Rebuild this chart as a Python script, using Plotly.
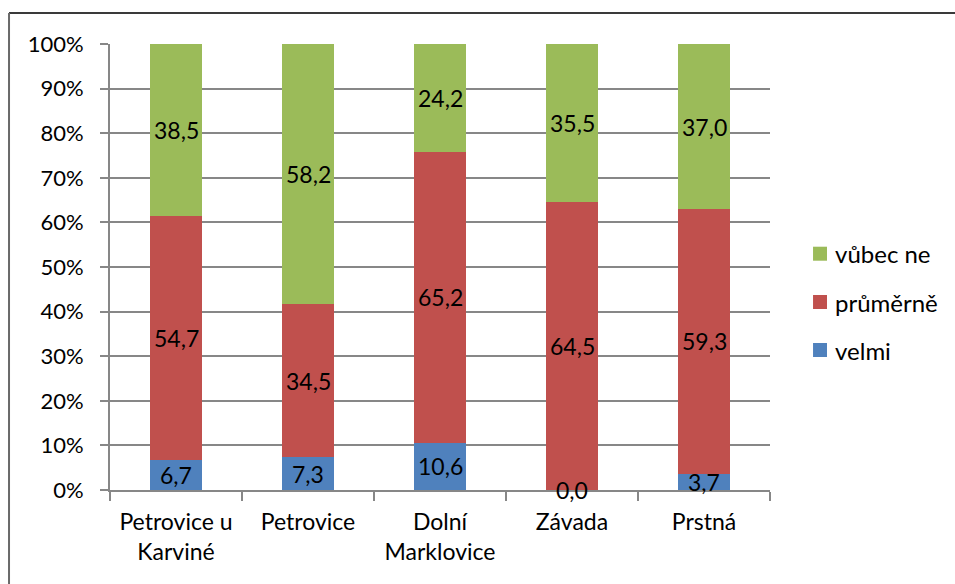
import plotly.graph_objects as go

# Survey answers per municipality (percent of respondents)
obce = ["Petrovice u<br>Karviné", "Petrovice", "Dolní<br>Marklovice", "Závada", "Prstná"]
velmi = [6.7, 7.3, 10.6, 0.0, 3.7]
prumerne = [54.7, 34.5, 65.2, 64.5, 59.3]
vubec_ne = [38.5, 58.2, 24.2, 35.5, 37.0]
y_ticks = [0, 10, 20, 30, 40, 50, 60, 70, 80, 90, 100]

series = [
    ("velmi", velmi, "#4F81BD"),
    ("průměrně", prumerne, "#C0504D"),
    ("vůbec ne", vubec_ne, "#9BBB59"),
]

FONT = "Lato, 'Open Sans', sans-serif"
GRID = "#878787"

fig = go.Figure()
for name, vals, color in series:
    fig.add_trace(go.Bar(
        x=obce, y=vals, name=name,
        marker=dict(color=color, line=dict(width=0)),
    ))

# Value labels centred in each stacked segment
annotations = []
base = [0.0] * len(obce)
for name, vals, color in series:
    for i, v in enumerate(vals):
        annotations.append(dict(
            x=obce[i], y=base[i] + v / 2, xref="x", yref="y",
            text=f"{v:.1f}".replace(".", ","), showarrow=False,
            font=dict(size=23, color="black", family=FONT),
        ))
        base[i] += v

# Chart frame (top and left edges)
shapes = [
    dict(type="line", xref="paper", yref="paper", x0=-0.153, x1=1.3,
         y0=1.0695, y1=1.0695, line=dict(color="#3a3a3a", width=2)),
    dict(type="line", xref="paper", yref="paper", x0=-0.153, x1=-0.153,
         y0=1.0695, y1=-0.25, line=dict(color="#6a6a6a", width=2)),
]

# Legend on the right: top entry is the top segment of the stack
legend_y = [0.3139, 0.4215, 0.5298]
for (name, vals, color), ly in zip(series, legend_y):
    shapes.append(dict(
        type="rect", xref="paper", yref="paper",
        x0=1.0652, x1=1.0864, y0=ly - 0.0157, y1=ly + 0.0157,
        fillcolor=color, line=dict(width=0),
    ))
    annotations.append(dict(
        x=1.0955, y=ly, xref="paper", yref="paper", xanchor="left", yanchor="middle",
        text=name, showarrow=False,
        font=dict(size=24, color="black", family=FONT),
    ))

fig.update_layout(
    barmode="stack",
    bargap=0.6,
    width=955, height=584,
    margin=dict(l=110, r=185, t=44, b=94),
    paper_bgcolor="white", plot_bgcolor="white",
    font=dict(family=FONT, size=22, color="black"),
    annotations=annotations,
    shapes=shapes,
    showlegend=False,
    xaxis=dict(
        showline=True, linecolor=GRID, linewidth=2,
        ticks="outside", tickson="boundaries", ticklen=9, tickcolor=GRID, tickwidth=2,
        showgrid=False, tickfont=dict(size=23), ticklabelstandoff=10,
    ),
    yaxis=dict(
        range=[0, 100], tickvals=y_ticks, ticktext=[f"{t}%" for t in y_ticks],
        showline=True, linecolor=GRID, linewidth=2,
        ticks="outside", ticklen=8, tickcolor=GRID, tickwidth=2,
        showgrid=True, gridcolor=GRID, gridwidth=1.5,
        zeroline=False, tickfont=dict(size=22), ticklabelstandoff=12,
    ),
)

fig.write_html("out.html")
